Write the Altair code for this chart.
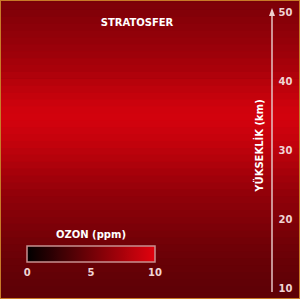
import altair as alt
import pandas as pd

# Ozone concentration (ppm) by altitude (km), read from the background shading
altitude_km = list(range(8, 53))
ozone_ppm = [4.1, 4.2, 4.2, 4.3, 4.4, 4.5, 4.6, 4.8, 4.9, 5.1,
             5.3, 5.5, 5.7, 5.9, 6.1, 6.3, 6.5, 6.8, 7.1, 7.4,
             7.7, 8.0, 8.3, 8.6, 8.8, 9.0, 9.2, 9.3, 9.2, 9.0,
             8.7, 8.4, 8.1, 7.8, 7.5, 7.3, 7.0, 6.8, 6.6, 6.4,
             6.2, 6.0, 5.8, 5.6, 5.4]
y_ticks = [10, 20, 30, 40, 50]
legend_ticks = [0, 5, 10]
title_text = "STRATOSFER"
axis_title = "YÜKSEKLİK (km)"
legend_title = "OZON (ppm)"

FONT = "DejaVu Sans"

df = pd.DataFrame({"alt": altitude_km, "ozone": ozone_ppm})
df["lo"] = df["alt"] - 0.55
df["hi"] = df["alt"] + 0.55

yscale = alt.Scale(domain=[8.55, 51.88], nice=False, zero=False)
yaxis = alt.Axis(
    orient="right", offset=-28, values=y_ticks, ticks=False, tickSize=0,
    domain=False, grid=False, labelPadding=6, labelFontSize=10,
    labelFont=FONT, labelFontWeight="bold", labelColor="#f0d4d4",
    title=axis_title, titleFontSize=10, titleFont=FONT, titleFontWeight="bold",
    titleColor="#ffffff", titleAngle=270, titleX=-13, titleY=145,
    titleAlign="center", titleBaseline="middle", zindex=2)

bands = alt.Chart(df).mark_rect(clip=True, strokeWidth=0).encode(
    x=alt.value(0), x2=alt.value(300),
    y=alt.Y("lo:Q", scale=yscale, axis=yaxis),
    y2="hi:Q",
    color=alt.Color("ozone:Q",
                    scale=alt.Scale(domain=[-0.01, 10.01], range=["#000000", "#e2020e"],
                                    interpolate="rgb"),
                    legend=alt.Legend(
                        orient="none", legendX=27, legendY=230, direction="horizontal",
                        gradientLength=128, gradientThickness=16,
                        gradientStrokeColor="#c89090", gradientStrokeWidth=1.5,
                        values=legend_ticks, title=legend_title, titleFontSize=10,
                        titleFontWeight="bold", titleColor="#ffffff", titleFont=FONT,
                        titleAnchor="middle", titlePadding=6,
                        labelFontSize=10, labelFontWeight="bold", labelColor="#f0d4d4",
                        labelFont=FONT, labelAlign="center", labelOffset=6)),
)

rule_df = pd.DataFrame({"y": [9.57], "y2": [50.4]})
rule = alt.Chart(rule_df).mark_rule(color="#e6c4c4", strokeWidth=1.5).encode(
    x=alt.value(272),
    y=alt.Y("y:Q", scale=yscale, axis=yaxis),
    y2="y2:Q",
)

arrow_df = pd.DataFrame({"y": [50.07]})
arrow = alt.Chart(arrow_df).mark_point(
    shape="M-0.85,1L0,-1.3L0.85,1Z", filled=True, size=49, color="#eed0d0", opacity=1
).encode(x=alt.value(272), y=alt.Y("y:Q", scale=yscale, axis=yaxis))

title_df = pd.DataFrame({"t": [title_text]})
title = alt.Chart(title_df).mark_text(
    font=FONT, fontSize=10, fontWeight="bold", color="#ffffff",
    align="center", baseline="middle"
).encode(x=alt.value(137), y=alt.value(23), text="t:N")

frame = alt.Chart(pd.DataFrame({"f": [0]})).mark_rect(
    filled=False, stroke="#c87a28", strokeWidth=2
).encode(x=alt.value(0), x2=alt.value(300), y=alt.value(0), y2=alt.value(299))

chart = alt.layer(bands, rule, arrow, title, frame).properties(
    width=300, height=299, padding=0, autosize="none", background="#5e0a0c"
).configure_view(stroke=None)

chart.save("out.html", embed_options={"renderer": "svg", "actions": False})
